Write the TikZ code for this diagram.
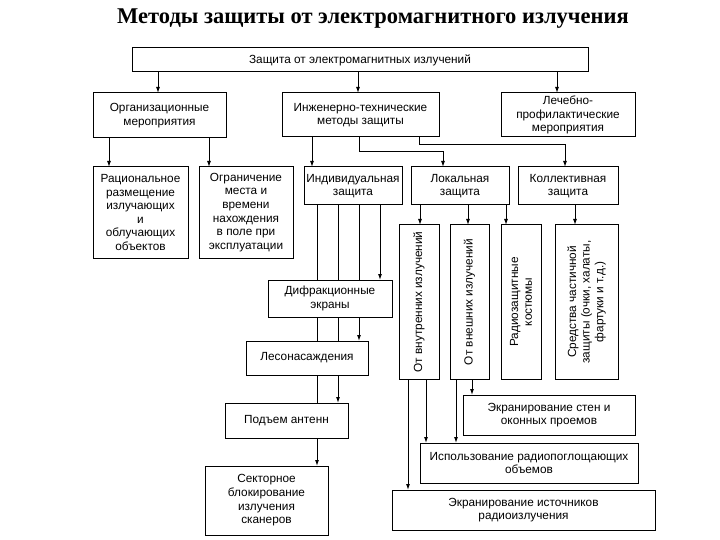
\documentclass[tikz,border=0pt]{standalone}
\usepackage{fontspec}
\setmainfont{Liberation Sans}
\newfontfamily\titlefont{Liberation Serif}
\usetikzlibrary{arrows.meta}
\newcommand\mybox[6]{\node[box, minimum width={(#4-#2)*1pt}, minimum height={(#5-#3)*1pt}] (#1) at ({(#2+#4)/2},{(#3+#5)/2}) {#6};}
\begin{document}
\begin{tikzpicture}[x=1pt,y=-1pt,
  box/.style={draw, line width=1pt, align=center, inner sep=1pt, outer sep=0pt, font=\fontsize{11.8}{13.6}\selectfont},
  vtext/.style={rotate=90, align=center, inner sep=0pt, font=\fontsize{11.8}{13.6}\selectfont},
  arr/.style={line width=1pt, -{Latex[length=6pt,width=4pt]}},
  ln/.style={line width=1pt}]
\useasboundingbox (0,0) rectangle (720,540);
\node (title) at (373,19) {\titlefont\bfseries\fontsize{22.5}{26}\selectfont Методы защиты от электромагнитного излучения};

\mybox{b0}{132}{48}{588}{72}{Защита от электромагнитных излучений}
\mybox{org}{93}{93}{226}{138}{Организационные\\мероприятия}
\mybox{inzh}{282}{93}{439}{137}{Инженерно-технические\\методы защиты}
\mybox{lech}{501}{93}{635}{137}{Лечебно-\\профилактические\\мероприятия}
\mybox{rac}{93}{167}{188}{258}{Рациональное\\размещение\\излучающих\\и\\облучающих\\объектов}
\mybox{ogr}{199}{167}{293}{258}{Ограничение\\места и\\времени\\нахождения\\в поле при\\эксплуатации}
\mybox{ind}{304}{167}{402}{205}{Индивидуальная\\защита}
\mybox{lok}{411}{167}{509}{205}{Локальная\\защита}
\mybox{koll}{518}{167}{618}{205}{Коллективная\\защита}
\mybox{vnutr}{399}{225}{439}{379}{}
\mybox{vnesh}{450}{225}{489}{379}{}
\mybox{radio}{501}{225}{541}{379}{}
\mybox{sred}{555}{225}{618}{379}{}
\node[vtext] (vnutrt) at (vnutr) {От внутренних излучений};
\node[vtext] (vnesht) at (vnesh) {От внешних излучений};
\node[vtext] (radiot) at (radio) {Радиозащитные\\костюмы};
\node[vtext] (sredt) at (sred) {Средства частичной\\защиты (очки, халаты,\\фартуки и т.д.)};
\mybox{difr}{268}{280}{392}{317}{Дифракционные\\экраны}
\mybox{les}{246}{341}{368}{375}{Лесонасаждения}
\mybox{pod}{225}{403}{348}{438}{Подъем антенн}
\mybox{sekt}{205}{466}{328}{535}{Секторное\\блокирование\\излучения\\сканеров}
\mybox{ekrst}{463}{395}{635}{435}{Экранирование стен и\\оконных проемов}
\mybox{isp}{420}{443}{638}{483}{Использование радиопоглощающих\\объемов}
\mybox{ekrist}{392}{490}{655}{530}{Экранирование источников\\радиоизлучения}

% top level
\draw[arr] (158,0 |- b0.south) -- (158,0 |- org.north);
\draw[arr] (358,0 |- b0.south) -- (358,0 |- inzh.north);
\draw[arr] (557,0 |- b0.south) -- (557,0 |- lech.north);
% organisational
\draw[arr] (109,0 |- org.south) -- (109,0 |- rac.north);
\draw[arr] (209,0 |- org.south) -- (209,0 |- ogr.north);
% engineering
\draw[arr] (312,0 |- inzh.south) -- (312,0 |- ind.north);
\draw[arr] (359,0 |- inzh.south) -- (359,152) -- (443,152) -- (443,0 |- lok.north);
\draw[arr] (419,0 |- inzh.south) -- (419,145) -- (565,145) -- (565,0 |- koll.north);
% local / collective
\draw[arr] (420,0 |- lok.south) -- (420,0 |- vnutr.north);
\draw[arr] (468,0 |- lok.south) -- (468,0 |- vnesh.north);
\draw[arr] (506,0 |- lok.south) -- (506,0 |- radio.north);
\draw[arr] (575,0 |- koll.south) -- (575,0 |- sred.north);
% individual
\draw[ln] (317,0 |- ind.south) -- (317,0 |- difr.north);
\draw[ln] (338,0 |- ind.south) -- (338,0 |- difr.north);
\draw[ln] (359,0 |- ind.south) -- (359,0 |- difr.north);
\draw[arr] (380,0 |- ind.south) -- (380,0 |- difr.north);
\draw[ln] (317,0 |- difr.south) -- (317,0 |- les.north);
\draw[ln] (338,0 |- difr.south) -- (338,0 |- les.north);
\draw[arr] (359,0 |- difr.south) -- (359,0 |- les.north);
\draw[ln] (317,0 |- les.south) -- (317,0 |- pod.north);
\draw[arr] (338,0 |- les.south) -- (338,0 |- pod.north);
\draw[arr] (317,0 |- pod.south) -- (317,0 |- sekt.north);
% inner / outer
\draw[arr] (408,0 |- vnutr.south) -- (408,0 |- ekrist.north);
\draw[arr] (426,0 |- vnutr.south) -- (426,0 |- isp.north);
\draw[arr] (456,0 |- vnesh.south) -- (456,0 |- isp.north);
\draw[arr] (472,0 |- vnesh.south) -- (472,0 |- ekrst.north);
\end{tikzpicture}
\end{document}
